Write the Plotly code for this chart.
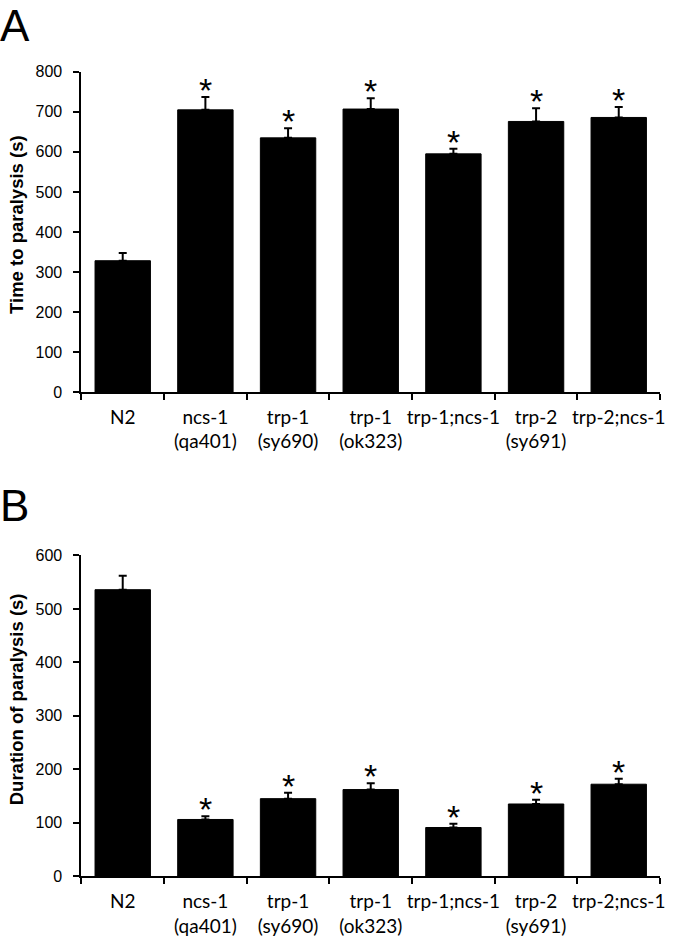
import plotly.graph_objects as go

categories = ["N2", "ncs-1<br>(qa401)", "trp-1<br>(sy690)", "trp-1<br>(ok323)",
              "trp-1;ncs-1", "trp-2<br>(sy691)", "trp-2;ncs-1"]
time_to_paralysis = [328, 705, 635, 707, 595, 676, 686]
time_err = [19, 32, 24, 27, 13, 33, 26]
time_sig = [False, True, True, True, True, True, True]
duration_paralysis = [536, 106, 145, 162, 91, 135, 172]
duration_err = [26, 6, 11, 12, 7, 8, 10]
duration_sig = [False, True, True, True, True, True, True]
title_A = "Time to paralysis (s)"
title_B = "Duration of paralysis (s)"

W, H = 675, 947

def px_x(p):
    return p / W

def px_y(p):
    return 1 - p / H

fig = go.Figure()

fig.add_trace(go.Bar(
    x=categories, y=time_to_paralysis, xaxis="x", yaxis="y",
    marker=dict(color="black", line=dict(color="black", width=1)),
    error_y=dict(type="data", array=time_err, arrayminus=[0]*len(time_err),
                 symmetric=False, color="black", thickness=2, width=4),
    showlegend=False,
))
fig.add_trace(go.Bar(
    x=categories, y=duration_paralysis, xaxis="x2", yaxis="y2",
    marker=dict(color="black", line=dict(color="black", width=1)),
    error_y=dict(type="data", array=duration_err, arrayminus=[0]*len(duration_err),
                 symmetric=False, color="black", thickness=2, width=4),
    showlegend=False,
))

star_font = dict(family="Liberation Sans, Arial", size=34, color="black")
annotations = []
for c, v, e, s in zip(categories, time_to_paralysis, time_err, time_sig):
    if s:
        annotations.append(dict(x=c, y=v + e, xref="x", yref="y", text="*",
                                showarrow=False, yanchor="bottom", yshift=-14,
                                font=star_font))
for c, v, e, s in zip(categories, duration_paralysis, duration_err, duration_sig):
    if s:
        annotations.append(dict(x=c, y=v + e, xref="x2", yref="y2", text="*",
                                showarrow=False, yanchor="bottom", yshift=-14,
                                font=star_font))

letter_font = dict(family="Liberation Sans, Arial", size=44, color="black")
annotations.append(dict(x=px_x(-2), y=px_y(-9), xref="paper", yref="paper", text="A",
                        showarrow=False, xanchor="left", yanchor="top", font=letter_font))
annotations.append(dict(x=px_x(-2), y=px_y(480), xref="paper", yref="paper", text="B",
                        showarrow=False, xanchor="left", yanchor="top", font=letter_font))

title_font = dict(family="Liberation Sans, Arial", size=18.5, color="black")
annotations.append(dict(x=px_x(16), y=px_y(220), xref="paper", yref="paper",
                        text="<b>" + title_A + "</b>", textangle=-90, showarrow=False,
                        xanchor="center", yanchor="middle", font=title_font))
annotations.append(dict(x=px_x(16), y=px_y(704), xref="paper", yref="paper",
                        text="<b>" + title_B + "</b>", textangle=-90, showarrow=False,
                        xanchor="center", yanchor="middle", font=title_font))

xcommon = dict(
    type="category", range=[-0.5, 6.5], tickson="boundaries", ticks="outside",
    ticklen=6, tickwidth=2, tickcolor="black", showline=True, linewidth=2,
    linecolor="black", showgrid=False, zeroline=False, tickangle=0,
    ticklabelstandoff=7,
    tickfont=dict(family="Lato, Calibri, sans-serif", size=19, color="black"),
    domain=[px_x(82), px_x(665)],
)
ycommon = dict(
    ticks="outside", ticklen=6, tickwidth=2, tickcolor="black", showline=True,
    linewidth=2, linecolor="black", showgrid=False, zeroline=False, dtick=100,
    ticklabelstandoff=8,
    tickfont=dict(family="Liberation Sans, Arial", size=16, color="black"),
)

fig.update_layout(
    width=W, height=H,
    margin=dict(l=0, r=0, t=0, b=0),
    paper_bgcolor="white", plot_bgcolor="white",
    bargap=0.33,
    xaxis=dict(**xcommon, anchor="y"),
    xaxis2=dict(**xcommon, anchor="y2"),
    yaxis=dict(**ycommon, range=[0, 800], anchor="x",
               domain=[px_y(391), px_y(65)]),
    yaxis2=dict(**ycommon, range=[0, 600], anchor="x2",
                domain=[px_y(884), px_y(557.5)]),
    annotations=annotations,
)

fig.write_html("out.html", config={"displayModeBar": False},
               post_script="document.body.style.margin='0';")
